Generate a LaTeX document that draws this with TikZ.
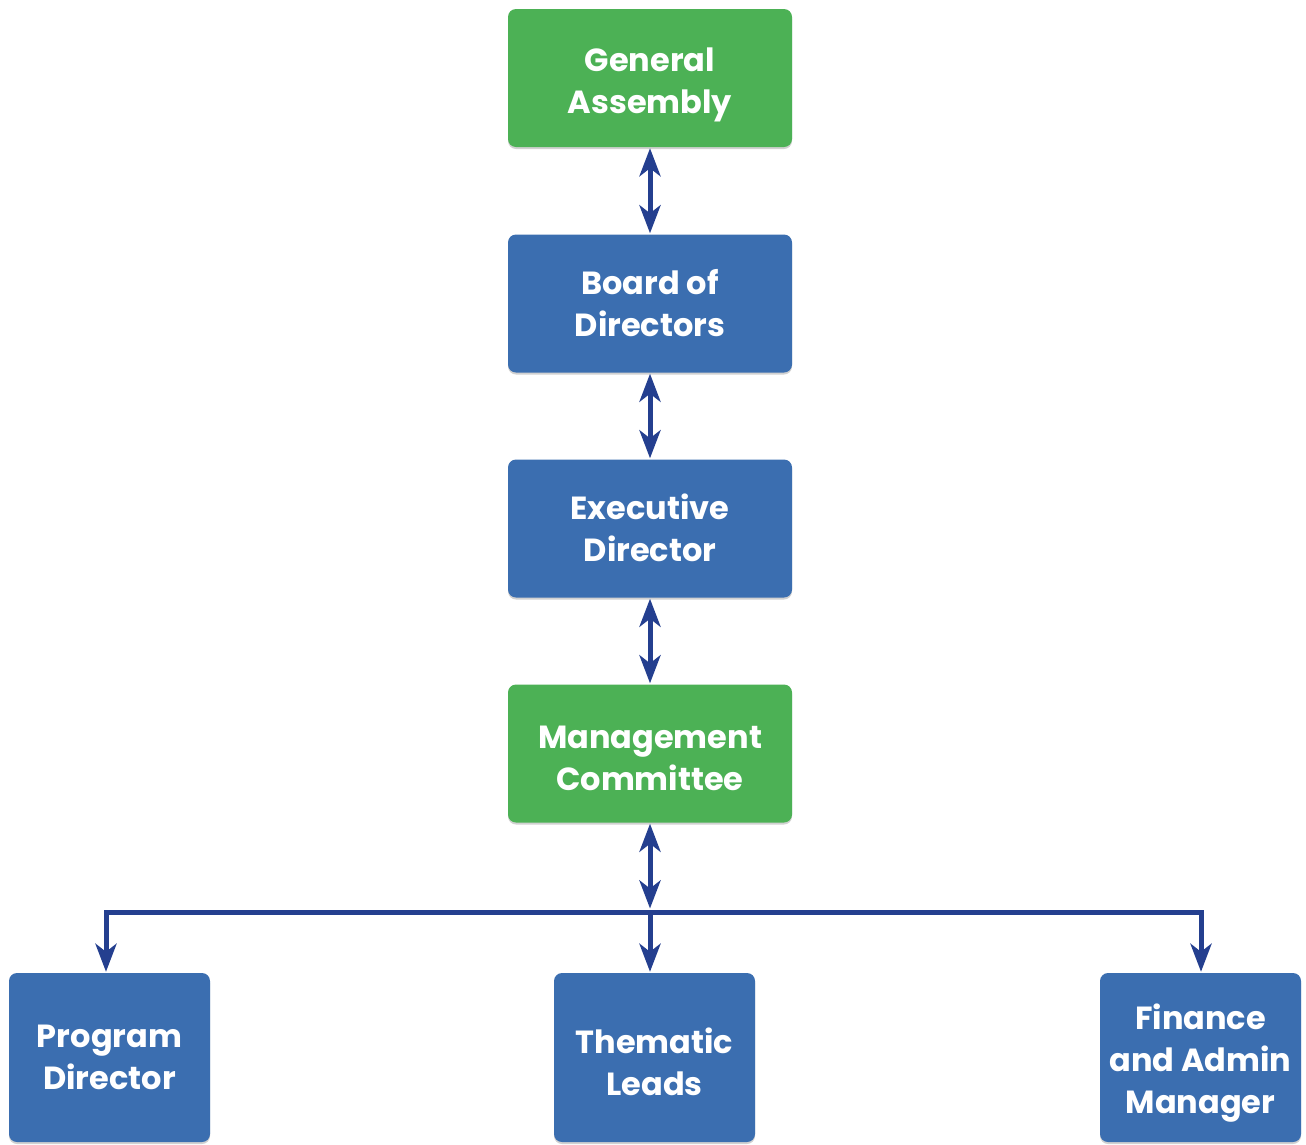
\documentclass[tikz,border=0pt]{standalone}
\usepackage{fontspec}
\setmainfont{Poppins}
\usetikzlibrary{arrows.meta,shadows}
\definecolor{boxgreen}{RGB}{76,177,85}
\definecolor{boxblue}{RGB}{59,110,176}
\definecolor{arrblue}{RGB}{36,63,143}
\newcommand\ls{\rule[-10pt]{0pt}{32pt}}
\begin{document}
\begin{tikzpicture}[x=1pt,y=-1pt,
  >={Stealth[length=28pt, width=21pt, inset=8pt]},
  box/.style={rounded corners=8pt, draw=none,
    drop shadow={shadow xshift=0pt, shadow yshift=-2pt, opacity=0.18, fill=black}},
  wide/.style={box, minimum width=284pt, minimum height=138pt},
  narrow/.style={box, minimum width=201pt, minimum height=169pt},
  gbox/.style={fill=boxgreen},
  bbox/.style={fill=boxblue},
  txt/.style={text=white, align=center, inner sep=0pt,
    font=\bfseries\fontsize{32}{42}\selectfont},
  conn/.style={draw=arrblue, line width=5pt},
  dbl/.style={conn, <->, shorten <=1pt, shorten >=1pt},
  sgl/.style={conn, ->, shorten >=1pt}
]
\useasboundingbox (0,0) rectangle (1306,1144);
\node[wide,gbox] (ga) at (650,78) {};
\node[wide,bbox] (bd) at (650,303.5) {};
\node[wide,bbox] (ed) at (650,528.5) {};
\node[wide,gbox] (mc) at (650,753.5) {};
\node[narrow,bbox] (pd) at (109.5,1057.5) {};
\node[narrow,bbox] (tl) at (654.5,1057.5) {};
\node[narrow,bbox] (fa) at (1200.5,1057.5) {};

\node[txt] (ga-t) at ([yshift=-8pt]ga.center) {\ls General\\\ls Assembly};
\node[txt] (bd-t) at ([yshift=-4pt]bd.center) {\ls Board of\\\ls Directors};
\node[txt] (ed-t) at ([yshift=-4pt]ed.center) {\ls Executive\\\ls Director};
\node[txt] (mc-t) at ([yshift=-10pt]mc.center) {\ls Management\\\ls Committee};
\node[txt] (pd-t) at ([yshift=-5pt]pd.center) {\ls Program\\\ls Director};
\node[txt] (tl-t) at ([yshift=-9pt]tl.center) {\ls Thematic\\\ls Leads};
\node[txt] (fa-t) at ([yshift=-6pt]fa.center) {\ls Finance\\\ls and Admin\\\ls Manager};

\coordinate (h)  at (650,912);
\coordinate (ht) at (650,909.5);
\coordinate (hL) at (106,912);
\coordinate (hR) at (1201,912);

\draw[dbl] (ga.south) -- (bd.north);
\draw[dbl] (bd.south) -- (ed.north);
\draw[dbl] (ed.south) -- (mc.north);
\draw[dbl] (mc.south) -- (ht);

\draw[conn, line cap=rect] (hL) -- (hR);
\draw[sgl] (hL) -- (hL |- pd.north);
\draw[sgl] (h) -- (h |- tl.north);
\draw[sgl] (hR) -- (hR |- fa.north);
\end{tikzpicture}
\end{document}
